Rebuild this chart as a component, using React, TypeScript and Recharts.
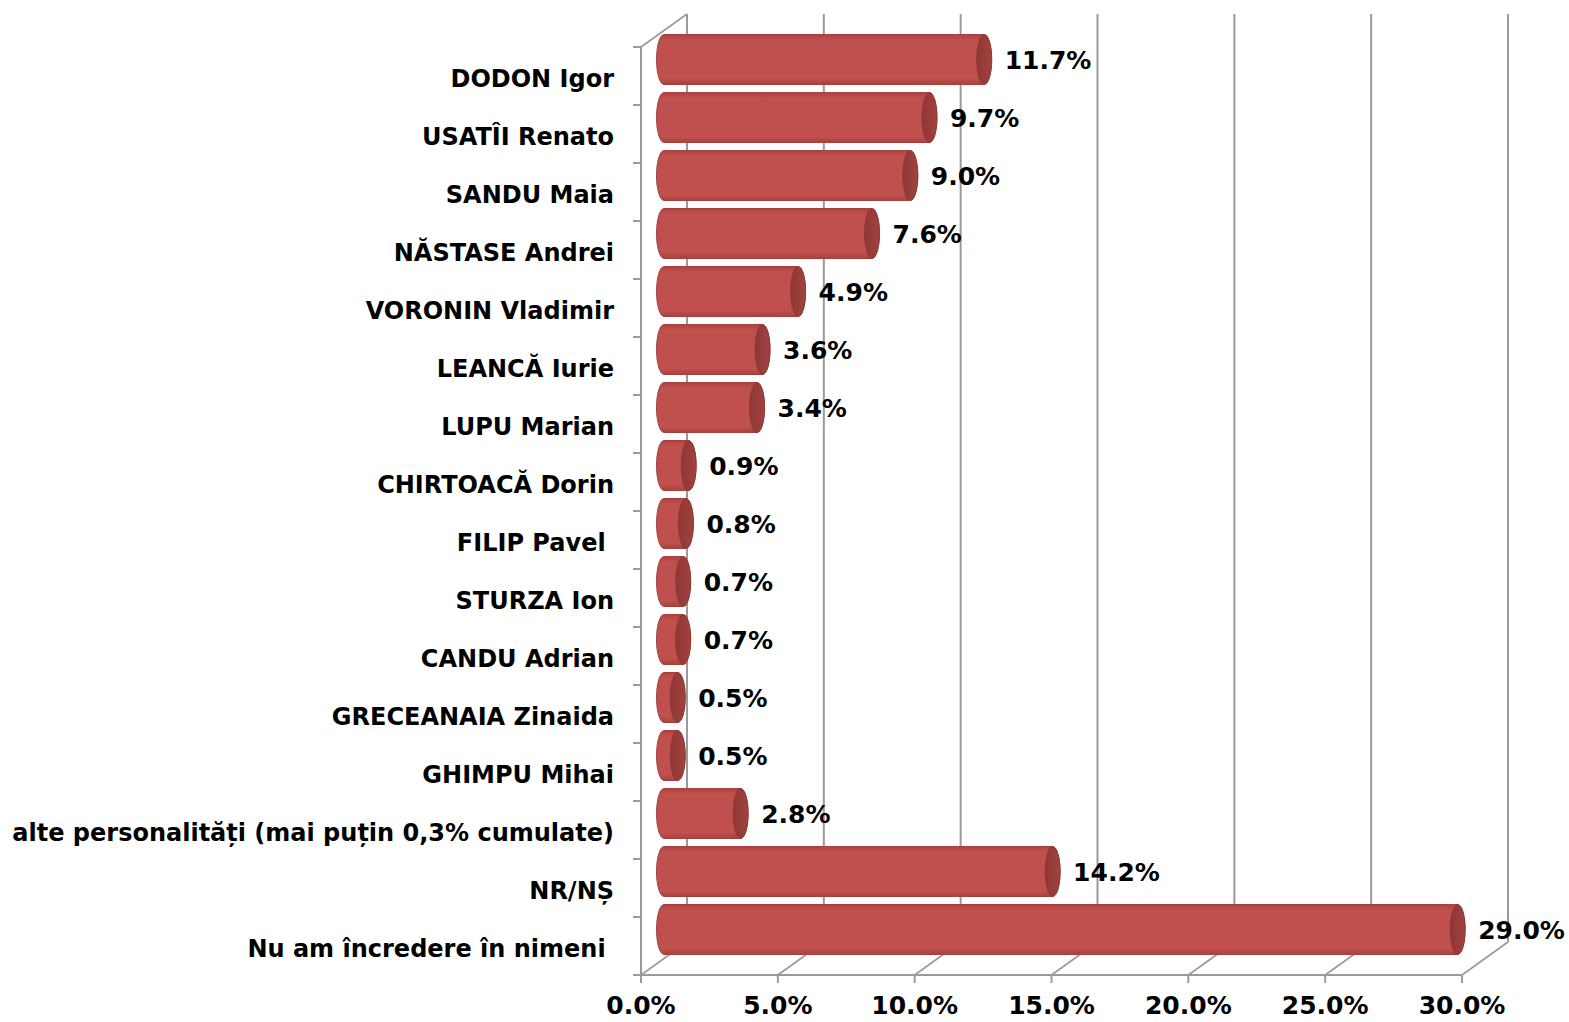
import React from "react";
import { BarChart, Bar, XAxis, YAxis, CartesianGrid } from "recharts";

const CATEGORIES = [
  "DODON Igor",
  "USATÎI Renato",
  "SANDU Maia",
  "NĂSTASE Andrei",
  "VORONIN Vladimir",
  "LEANCĂ Iurie",
  "LUPU Marian",
  "CHIRTOACĂ Dorin",
  "FILIP Pavel ",
  "STURZA Ion",
  "CANDU Adrian",
  "GRECEANAIA Zinaida",
  "GHIMPU Mihai",
  "alte personalități (mai puțin 0,3% cumulate)",
  "NR/NȘ",
  "Nu am încredere în nimeni ",
];
const VALUES = [11.7, 9.7, 9.0, 7.6, 4.9, 3.6, 3.4, 0.9, 0.8, 0.7, 0.7, 0.5, 0.5, 2.8, 14.2, 29.0];
const X_TICKS = [0, 5, 10, 15, 20, 25, 30];

const data = CATEGORIES.map((name, i) => ({ name, value: VALUES[i] }));

const W = 1569;
const H = 1022;
const MARGIN = { top: 47, right: 107, bottom: 0, left: 0 };
const Y_AXIS_W = 641;
const X_AXIS_H = 47;
const PLOT_H = H - MARGIN.top - MARGIN.bottom - X_AXIS_H;
const BAND = PLOT_H / CATEGORIES.length;
const DEPTH_X = 46;
const DEPTH_Y = -33;
const BAR_DX = DEPTH_X / 2;
const BAR_DY = DEPTH_Y / 2;
const GRID = "#9a9a9a";
const FONT = "'DejaVu Sans', Verdana, sans-serif";

const fmt = (v: number) => `${v.toFixed(1)}%`;

function Cylinder(props: any) {
  const { x, y, width, height, payload } = props;
  if (width == null || height == null) return null;
  const rx = 7.5;
  const x0 = x + BAR_DX;
  const x1 = x + width + BAR_DX;
  const top = y + BAR_DY;
  const bot = top + height;
  const ry = height / 2;
  const mid = top + ry;
  const body = `M${x0},${top} L${x1},${top} A${rx},${ry} 0 0 1 ${x1},${bot} L${x0},${bot} A${rx},${ry} 0 0 1 ${x0},${top} Z`;
  return (
    <g>
      <path d={body} fill="url(#cylBody)" stroke="#a5413e" strokeWidth={1} />
      <ellipse cx={x1} cy={mid} rx={rx} ry={ry} fill="url(#cylCap)" stroke="#8e3634" strokeWidth={0.8} />
      <text
        x={x1 + rx + 13}
        y={mid}
        dy="0.36em"
        fontFamily={FONT}
        fontWeight="bold"
        fontSize={25}
        fill="#000"
      >
        {fmt(payload.value)}
      </text>
    </g>
  );
}

function BackGridLine(props: any) {
  const { x1, y1, y2, key } = props;
  return (
    <g key={key}>
      <line x1={x1 + DEPTH_X} y1={y1 + DEPTH_Y} x2={x1 + DEPTH_X} y2={y2 + DEPTH_Y} stroke={GRID} strokeWidth={2} />
      <line x1={x1} y1={y2} x2={x1 + DEPTH_X} y2={y2 + DEPTH_Y} stroke={GRID} strokeWidth={1.6} />
    </g>
  );
}

function YTick(props: any) {
  const { x, y, payload, index } = props;
  const axisX = x + 27;
  return (
    <g>
      <text
        x={x}
        y={y}
        dy={10.5}
        textAnchor="end"
        xmlSpace="preserve"
        style={{ whiteSpace: "pre" }}
        fontFamily={FONT}
        fontWeight="bold"
        fontSize={24}
        fill="#000"
      >
        {payload.value}
      </text>
      <line x1={axisX - 8} y1={y - BAND / 2} x2={axisX} y2={y - BAND / 2} stroke={GRID} strokeWidth={2} />
      {index === CATEGORIES.length - 1 && (
        <line x1={axisX - 8} y1={y + BAND / 2} x2={axisX} y2={y + BAND / 2} stroke={GRID} strokeWidth={2} />
      )}
      {index === 0 && (
        <line
          x1={axisX}
          y1={y - BAND / 2}
          x2={axisX + DEPTH_X}
          y2={y - BAND / 2 + DEPTH_Y}
          stroke={GRID}
          strokeWidth={1.6}
        />
      )}
    </g>
  );
}

export default function App() {
  return (
    <div style={{ position: "absolute", left: 0, top: 0, width: W, height: H, background: "#fff" }}>
      <BarChart width={W} height={H} data={data} layout="vertical" margin={MARGIN}>
        <defs>
          <linearGradient id="cylBody" x1="0" y1="0" x2="0" y2="1">
            <stop offset="0" stopColor="#b2423f" />
            <stop offset="0.12" stopColor="#c0504d" />
            <stop offset="0.88" stopColor="#c0504d" />
            <stop offset="1" stopColor="#a9403d" />
          </linearGradient>
          <linearGradient id="cylCap" x1="0" y1="0" x2="1" y2="0">
            <stop offset="0" stopColor="#8f3634" />
            <stop offset="1" stopColor="#a04340" />
          </linearGradient>
        </defs>
        <CartesianGrid horizontal={false} vertical={BackGridLine} />
        <XAxis
          type="number"
          domain={[0, 30]}
          ticks={X_TICKS}
          interval={0}
          tickFormatter={fmt}
          height={X_AXIS_H}
          tickSize={8}
          tickMargin={13}
          axisLine={{ stroke: GRID, strokeWidth: 2 }}
          tickLine={{ stroke: GRID, strokeWidth: 2 }}
          tick={{ fontFamily: FONT, fontWeight: "bold", fontSize: 25, fill: "#000" }}
        />
        <YAxis
          type="category"
          dataKey="name"
          width={Y_AXIS_W}
          tickSize={8}
          tickMargin={19}
          interval={0}
          tickLine={false}
          axisLine={{ stroke: GRID, strokeWidth: 2 }}
          tick={YTick}
        />
        <Bar dataKey="value" barSize={50} isAnimationActive={false} shape={Cylinder} />
      </BarChart>
    </div>
  );
}
